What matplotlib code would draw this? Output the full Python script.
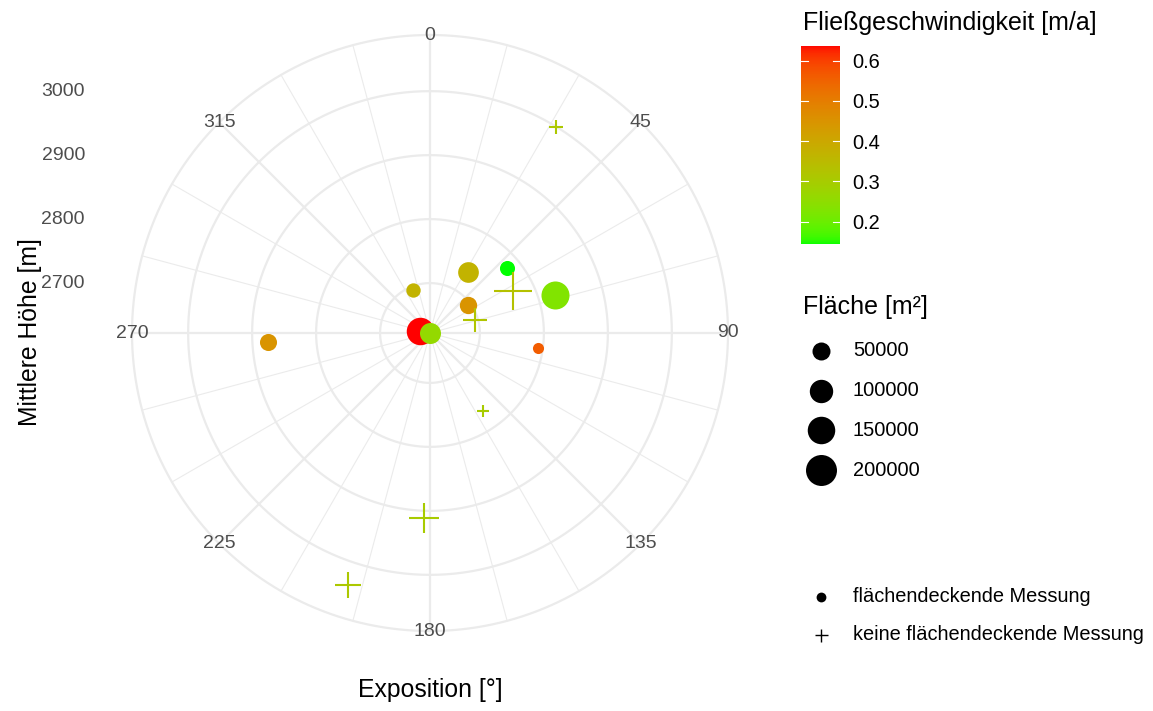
import numpy as np
import matplotlib
matplotlib.use("Agg")
import matplotlib.pyplot as plt
from matplotlib.colors import ListedColormap, Normalize
from matplotlib.cm import ScalarMappable
from matplotlib.transforms import IdentityTransform

plt.rcParams['font.family'] = ['Liberation Sans', 'DejaVu Sans']

# ---------------- data ----------------
exposition = [280, 165, 338, 32, 53, 50, 73, 98, 267, 31.5, 63, 74, 145.5, 182, 198]
hoehe = [2638, 2622, 2694, 2734, 2696, 2779, 2826, 2793, 2876, 3000, 2768, 2695, 2769, 2912, 3036]
flaeche = [150000, 76000, 26000, 73000, 45000, 30000, 157000, 11000, 43000,
           7000, 151000, 38000, 2300, 78000, 48000]
geschw = [0.637, 0.26, 0.37, 0.37, 0.45, 0.144, 0.23, 0.56, 0.45,
          0.31, 0.33, 0.32, 0.30, 0.30, 0.31]
flaechendeckend = [True] * 9 + [False] * 6

theta_breaks = [0, 45, 90, 135, 180, 225, 270, 315]
r_breaks = [2700, 2800, 2900, 3000]
cb_ticks = [0.2, 0.3, 0.4, 0.5, 0.6]
size_breaks = [50000, 100000, 150000, 200000]
shape_labels = ["flächendeckende Messung", "keine flächendeckende Messung"]

# ---------------- helpers ----------------
W, H, DPI = 1153, 711, 100
PT = 72.0 / DPI  # points per pixel


def srgb2lab(c):
    c = np.asarray(c, float)
    lin = np.where(c <= 0.04045, c / 12.92, ((c + 0.055) / 1.055) ** 2.4)
    M = np.array([[0.4124, 0.3576, 0.1805], [0.2126, 0.7152, 0.0722], [0.0193, 0.1192, 0.9505]])
    xyz = M @ lin / np.array([0.95047, 1.0, 1.08883])
    d = 6 / 29
    f = np.where(xyz > d ** 3, np.cbrt(xyz), xyz / (3 * d * d) + 4 / 29)
    return np.array([116 * f[1] - 16, 500 * (f[0] - f[1]), 200 * (f[1] - f[2])])


def lab2srgb(lab):
    L, a, b = lab
    fy = (L + 16) / 116
    fx = fy + a / 500
    fz = fy - b / 200
    d = 6 / 29
    f = np.array([fx, fy, fz])
    xyz = np.where(f > d, f ** 3, 3 * d * d * (f - 4 / 29)) * np.array([0.95047, 1.0, 1.08883])
    Minv = np.linalg.inv(np.array([[0.4124, 0.3576, 0.1805], [0.2126, 0.7152, 0.0722],
                                   [0.0193, 0.1192, 0.9505]]))
    lin = np.clip(Minv @ xyz, 0, 1)
    c = np.where(lin <= 0.0031308, 12.92 * lin, 1.055 * lin ** (1 / 2.4) - 0.055)
    return np.clip(c, 0, 1)


lab_lo = srgb2lab([0, 1, 0])
lab_hi = srgb2lab([1, 0, 0])
cmap = ListedColormap([lab2srgb((1 - t) * lab_lo + t * lab_hi) for t in np.linspace(0, 1, 256)])
norm = Normalize(min(geschw), max(geschw))


def diam_px(a):
    return 5.0 + 0.0581 * np.sqrt(np.asarray(a, float))


# ---------------- figure ----------------
fig = plt.figure(figsize=(W / DPI, H / DPI), dpi=DPI)
cx, cy, R = 430, 333, 298
ax = fig.add_axes([(cx - R) / W, (H - cy - R) / H, 2 * R / W, 2 * R / H], projection='polar')
ax.set_theta_zero_location('N')
ax.set_theta_direction(-1)
rmin = min(hoehe)
rmax = rmin + (max(hoehe) - rmin) * 1.125
ax.set_rlim(rmin, rmax)
ax.grid(False)
ax.set_xticks([])
ax.set_yticks([])
ax.spines['polar'].set_visible(False)
ax.patch.set_visible(False)

grid_col = '#EBEBEB'
th = np.linspace(0, 2 * np.pi, 721)
for rv in r_breaks + [rmax]:
    ax.plot(th, np.full_like(th, rv), color=grid_col, lw=1.6, zorder=0, clip_on=False)
for deg in range(0, 360, 15):
    major = deg % 45 == 0
    ax.plot([np.deg2rad(deg)] * 2, [rmin, rmax], color=grid_col,
            lw=1.6 if major else 0.8, zorder=0, clip_on=False)

for deg in theta_breaks:
    ax.text(np.deg2rad(deg), rmax, str(deg), ha='center', va='center',
            fontsize=14, color='#4D4D4D', zorder=1)

# points
exp_r = np.deg2rad(exposition)
hoehe_a = np.asarray(hoehe, float)
fl = np.asarray(flaeche, float)
gs = np.asarray(geschw, float)
fd = np.asarray(flaechendeckend)
for i in range(len(hoehe)):
    col = cmap(norm(gs[i]))
    d = diam_px(fl[i])
    if fd[i]:
        ax.scatter([exp_r[i]], [hoehe_a[i]], s=(d * PT) ** 2, color=col, marker='o',
                   linewidths=0, zorder=3, clip_on=False)
    else:
        ax.scatter([exp_r[i]], [hoehe_a[i]], s=(np.sqrt(2) * d * PT) ** 2, color=col,
                   marker='+', linewidths=1.5, zorder=3, clip_on=False)

# radial axis labels on the left
for v in r_breaks:
    yd = ax.transData.transform((0, v))[1]
    fig.text(85, yd, str(v), transform=IdentityTransform(), ha='right', va='center',
             fontsize=14, color='#4D4D4D')

# axis titles
fig.text(30 / W, 1 - 332 / H, 'Mittlere Höhe [m]', rotation=90, ha='center', va='center',
         fontsize=17.8, color='black')
fig.text(430 / W, 1 - 690 / H, 'Exposition [°]', ha='center', va='center',
         fontsize=17.8, color='black')

# ---------------- colourbar ----------------
cb_top, cb_bot = 45.7, 244.3
cax = fig.add_axes([801 / W, 1 - cb_bot / H, 39 / W, (cb_bot - cb_top) / H])
cb = fig.colorbar(ScalarMappable(norm=norm, cmap=cmap), cax=cax)
cb.outline.set_visible(False)
cax.set_yticks(cb_ticks)
cax.set_yticklabels([f"{t:.1f}" for t in cb_ticks])
cax.tick_params(length=0, labelsize=14.4, pad=9, labelcolor='black')
for t in cb_ticks:
    cax.plot([0, 0.19], [t, t], transform=cax.get_yaxis_transform(), color='white', lw=0.8)
    cax.plot([0.81, 1], [t, t], transform=cax.get_yaxis_transform(), color='white', lw=0.8)
fig.text(802.7, H - 30, 'Fließgeschwindigkeit [m/a]', transform=IdentityTransform(),
         ha='left', va='baseline', fontsize=18, color='black')

# ---------------- size & shape legends ----------------
ov = fig.add_axes([0, 0, 1, 1])
ov.set_xlim(0, W)
ov.set_ylim(H, 0)
ov.axis('off')
ov.text(802.7, 314, 'Fläche [m²]', ha='left', va='baseline', fontsize=18, color='black')
size_y = [351, 390.5, 430, 470]
for b, yy in zip(size_breaks, size_y):
    ov.scatter([820.7], [yy], s=(diam_px(b) * PT) ** 2, color='black', linewidths=0)
    ov.text(853, yy, str(b), ha='left', va='center', fontsize=14.4, color='black')

shape_y = [597, 635]
ov.scatter([820.7], [shape_y[0]], s=(9.8 * PT) ** 2, color='black', linewidths=0)
ov.scatter([820.7], [shape_y[1]], s=(13 * PT) ** 2, color='black', marker='+', linewidths=1.0)
for lab, yy in zip(shape_labels, shape_y):
    ov.text(853, yy, lab, ha='left', va='center', fontsize=14.4, color='black')

fig.savefig('out.png', dpi=DPI, facecolor='white')
